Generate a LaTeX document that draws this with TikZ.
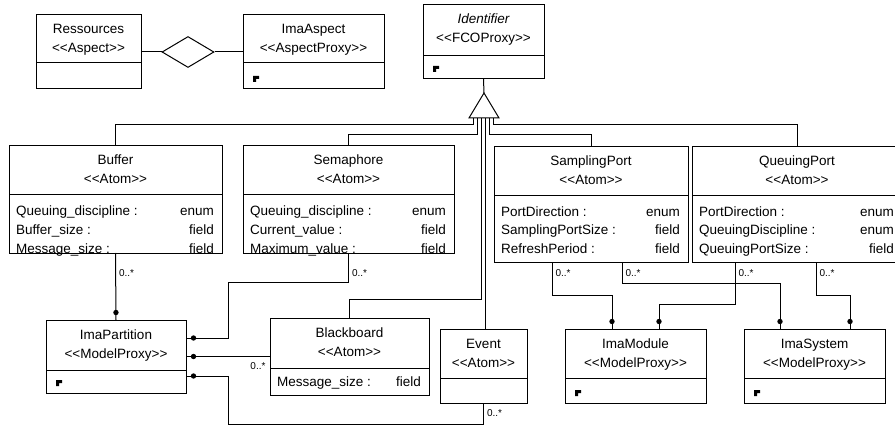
\documentclass[tikz,border=0pt]{standalone}
\usepackage{fontspec}
\setmainfont{Liberation Sans}
\usetikzlibrary{shapes.geometric,decorations.markings}

% stereotype text, broken so that << and >> stay two signs
\newcommand{\st}[1]{<{}<#1>{}>}

% class box: name, left, top, right, divider, bottom, title, stereotype
\newcommand{\umlclass}[8]{%
  \node[classbox, minimum width={(#4-#2)*1pt}, minimum height={(#6-#3)*1pt}]
    (#1) at ({(#2+#4)/2},{(#3+#6)/2}) {};
  \draw[conn] (#2,#5) -- (#4,#5);
  \node[anchor=base] (#1-title) at ({(#2+#4)/2},{#3+19}) {#7};
  \node[anchor=base] (#1-stereo) at ({(#2+#4)/2},{#3+38}) {#8};
}

% attribute rows: name, left, right, first baseline, list name/type
\newcommand{\attrs}[5]{%
  \foreach \attname/\atttype [count=\i from 0] in {#5} {
    \node[anchor=base west] (#1-a\i) at ({#2+7},{#4+19*\i}) {\attname};
    \node[anchor=base east] (#1-t\i) at ({#3-8},{#4+19*\i}) {\atttype};
  }
}

% small object sign in the lower part of a proxy box
\newcommand{\objmark}[1]{%
  \fill ([xshift=10pt,yshift=13pt]#1.south west) -- ++(6,0) -- ++(0,3)
    -- ++(-3,0) -- ++(0,3) -- ++(-3,0) -- cycle;
}

\begin{document}
\begin{tikzpicture}[x=1pt, y=-1pt,
  every node/.style={font=\fontsize{13.5pt}{19pt}\selectfont, inner sep=0pt},
  classbox/.style={draw, line width=1pt, outer sep=0pt},
  conn/.style={line width=1pt},
  ball/.style={postaction={decorate, decoration={markings,
      mark=at position -7.5pt with {\fill (0,0) circle (2.7pt);}}}},
  mult/.style={font=\fontsize{10pt}{12pt}\selectfont}]
  \useasboundingbox (0,0) rectangle (895,425);

  % top row
  \umlclass{Ressources}{36}{15}{141}{63}{89}{Ressources}{\st{Aspect}}
  \umlclass{ImaAspect}{243}{15}{384}{63}{89}{ImaAspect}{\st{AspectProxy}}
  \umlclass{Identifier}{423}{5}{544}{56}{79}{\itshape Identifier}{\st{FCOProxy}}
  \node[draw, diamond, line width=1pt, minimum width=52pt, minimum height=31pt] (agg) at (188,52) {};
  \draw[conn] (Ressources.east) -- (agg.west);
  \draw[conn] (agg.east) -- (ImaAspect.west);

  % atoms
  \umlclass{Buffer}{9}{146}{222}{195}{253}{Buffer}{\st{Atom}}
  \attrs{Buffer}{9}{222}{215}{Queuing\_discipline :/enum, Buffer\_size :/field, Message\_size :/field}
  \umlclass{Semaphore}{243}{146}{454}{195}{253}{Semaphore}{\st{Atom}}
  \attrs{Semaphore}{243}{454}{215}{Queuing\_discipline :/enum, Current\_value :/field, Maximum\_value :/field}
  \umlclass{SamplingPort}{494}{147}{688}{196}{262}{SamplingPort}{\st{Atom}}
  \attrs{SamplingPort}{494}{688}{216}{PortDirection :/enum, SamplingPortSize :/field, RefreshPeriod :/field}
  \umlclass{QueuingPort}{692}{147}{902}{196}{262}{QueuingPort}{\st{Atom}}
  \attrs{QueuingPort}{692}{902}{216}{PortDirection :/enum, QueuingDiscipline :/enum, QueuingPortSize :/field}

  % bottom row
  \umlclass{ImaPartition}{46}{320}{186}{370}{393}{ImaPartition}{\st{ModelProxy}}
  \umlclass{Blackboard}{270}{318}{429}{368}{395}{Blackboard}{\st{Atom}}
  \attrs{Blackboard}{270}{429}{386}{Message\_size :/field}
  \umlclass{Event}{440}{329}{527}{378}{403}{Event}{\st{Atom}}
  \umlclass{ImaModule}{565}{329}{706}{378}{403}{ImaModule}{\st{ModelProxy}}
  \umlclass{ImaSystem}{744}{329}{885}{378}{403}{ImaSystem}{\st{ModelProxy}}

  \objmark{ImaAspect}
  \objmark{Identifier}
  \objmark{ImaPartition}
  \objmark{ImaModule}
  \objmark{ImaSystem}

  % inheritance from Identifier
  \coordinate (gen) at (484,93);
  \foreach \k/\dx in {1/-11, 2/-7, 3/-3, 4/1, 5/5, 6/9}
    \coordinate (tb\k) at ([xshift=\dx pt, yshift=-25pt]gen);
  \draw[conn] (Identifier.south) -- (gen);
  \draw[conn] (tb1) -- ++(0,7) -| (Buffer.north);
  \draw[conn] (tb2) -- ++(0,17) -| (Semaphore.north);
  \draw[conn] (tb3) -- ++(0,181) -| (Blackboard.north);
  \draw[conn] (tb4) -- (tb4 |- Event.north);
  \draw[conn] (tb5) -- ++(0,17) -| (SamplingPort.north);
  \draw[conn] (tb6) -- ++(0,7) -| (QueuingPort.north);
  \draw[conn, fill=white] (gen) -- ++(15,25) -- ++(-30,0) -- cycle;

  % containment in ImaPartition
  \coordinate (pa1) at ([yshift=-18pt]ImaPartition.north east);
  \coordinate (pa3) at ([yshift=-56pt]ImaPartition.north east);
  \draw[conn, ball] (Buffer.south) -- node[mult, at start, anchor=west, xshift=3pt, yshift=-20pt] {0..*} (ImaPartition.north);
  \draw[conn, ball] (Semaphore.south) -- node[mult, at start, anchor=west, xshift=3pt, yshift=-20pt] {0..*} ++(0,29) -| ([xshift=42pt]pa1) -- (pa1);
  \draw[conn, ball] (Blackboard.west) -- node[mult, at start, anchor=east, xshift=-4pt, yshift=-9.5pt] {0..*} (ImaPartition.east);
  \draw[conn, ball] (Event.south) -- node[mult, at start, anchor=west, xshift=3pt, yshift=-10pt] {0..*} ++(0,21) -| ([xshift=42pt]pa3) -- (pa3);

  % ports in ImaModule and ImaSystem
  \coordinate (sp1) at ([xshift=58pt]SamplingPort.south west);
  \coordinate (sp2) at ([xshift=128pt]SamplingPort.south west);
  \coordinate (qp1) at ([xshift=43pt]QueuingPort.south west);
  \coordinate (qp2) at ([xshift=124pt]QueuingPort.south west);
  \coordinate (im1) at ([xshift=47pt]ImaModule.north west);
  \coordinate (im2) at ([xshift=94pt]ImaModule.north west);
  \coordinate (is1) at ([xshift=36pt]ImaSystem.north west);
  \coordinate (is2) at ([xshift=106pt]ImaSystem.north west);
  \draw[conn, ball] (sp1) -- node[mult, at start, anchor=west, xshift=3pt, yshift=-11pt] {0..*} ++(0,33) -| (im1);
  \draw[conn, ball] (sp2) -- node[mult, at start, anchor=west, xshift=3pt, yshift=-11pt] {0..*} ++(0,21) -| (is1);
  \draw[conn, ball] (qp1) -- node[mult, at start, anchor=west, xshift=3pt, yshift=-11pt] {0..*} ++(0,42) -| (im2);
  \draw[conn, ball] (qp2) -- node[mult, at start, anchor=west, xshift=3pt, yshift=-11pt] {0..*} ++(0,33) -| (is2);
\end{tikzpicture}
\end{document}
